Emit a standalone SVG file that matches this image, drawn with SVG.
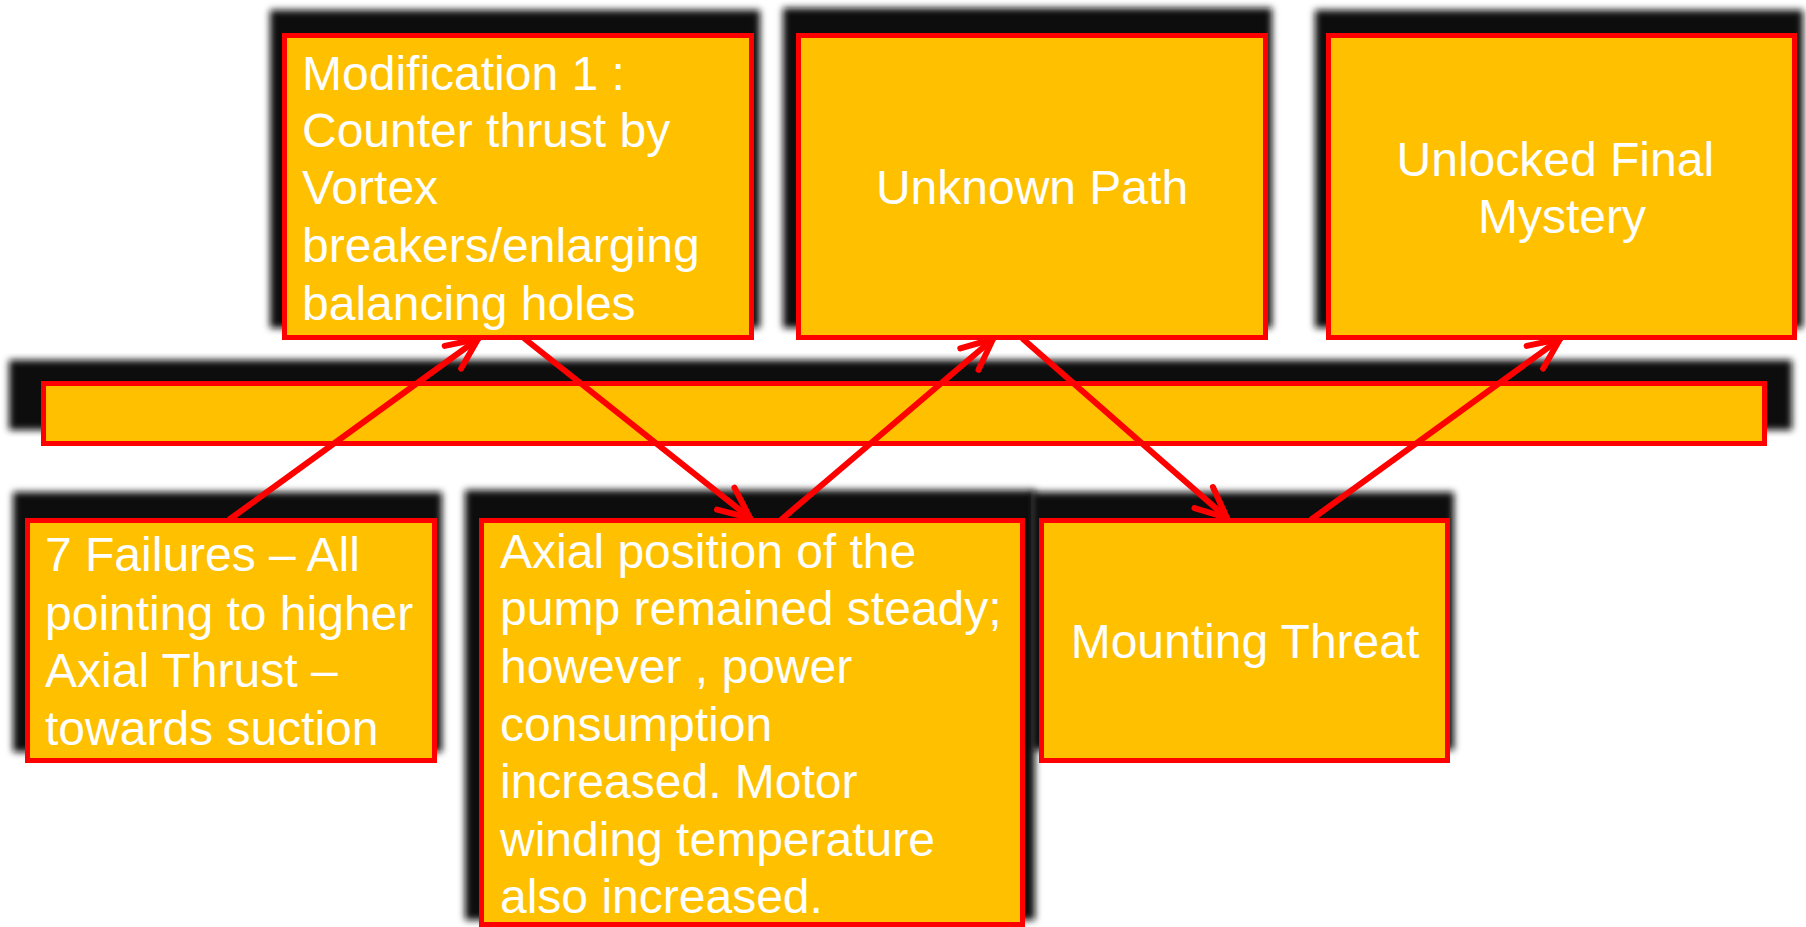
<svg xmlns="http://www.w3.org/2000/svg" width="1806" height="927" viewBox="0 0 1806 927">
  <defs>
    <filter id="blur" x="-5%" y="-10%" width="110%" height="120%">
      <feGaussianBlur stdDeviation="3.5"/>
    </filter>
    <marker id="arrow" markerUnits="userSpaceOnUse" markerWidth="50" markerHeight="50" viewBox="-40 -25 50 50" refX="0" refY="0" orient="auto" overflow="visible">
      <path d="M -31 -14 L 0 0 L -31 14" fill="none" stroke="#FF0000" stroke-width="6" stroke-linecap="round" stroke-linejoin="round"/>
    </marker>
  </defs>
  <style>
    .shadow { fill: #0d0d0d; filter: url(#blur); }
    .box { fill: #FFC000; stroke: #FF0000; stroke-width: 5; }
    .label { font-family: "Liberation Sans", Arial, sans-serif; font-size: 48px; fill: #FFFFFF; }
    .mid { text-anchor: middle; }
    .conn { stroke: #FF0000; stroke-width: 6; stroke-linecap: round; fill: none; marker-end: url(#arrow); }
  </style>
  <rect width="1806" height="927" fill="#FFFFFF"/>

  <g id="node-modification">
    <rect class="shadow" x="270" y="10" width="490" height="318"/>
    <rect class="box" x="284.5" y="35.5" width="467" height="302"/>
    <text class="label">
      <tspan x="302" y="90">Modification 1 :</tspan>
      <tspan x="302" y="147">Counter thrust by</tspan>
      <tspan x="302" y="204">Vortex</tspan>
      <tspan x="302" y="262">breakers/enlarging</tspan>
      <tspan x="302" y="320">balancing holes</tspan>
    </text>
  </g>

  <g id="node-unknown">
    <rect class="shadow" x="783" y="8" width="489" height="320"/>
    <rect class="box" x="798.5" y="35.5" width="467" height="302"/>
    <text class="label mid" x="1032" y="204">Unknown Path</text>
  </g>

  <g id="node-unlocked">
    <rect class="shadow" x="1315" y="10" width="488" height="318"/>
    <rect class="box" x="1328.5" y="35.5" width="466" height="302"/>
    <text class="label mid">
      <tspan x="1562" y="176">Unlocked Final</tspan>
      <tspan x="1562" y="233">Mystery</tspan>
    </text>
  </g>

  <g id="node-bar">
    <rect class="shadow" x="9" y="360" width="1783" height="70"/>
    <rect class="box" x="43.5" y="383.5" width="1721" height="60"/>
  </g>

  <g id="node-failures">
    <rect class="shadow" x="13" y="492" width="429" height="260"/>
    <rect class="box" x="27.5" y="520.5" width="407" height="240"/>
    <text class="label">
      <tspan x="45" y="571">7 Failures – All</tspan>
      <tspan x="45" y="630">pointing to higher</tspan>
      <tspan x="45" y="687">Axial Thrust –</tspan>
      <tspan x="45" y="745">towards suction</tspan>
    </text>
  </g>

  <g id="node-axial">
    <rect class="shadow" x="465" y="490" width="570" height="430"/>
    <rect class="box" x="481.5" y="520.5" width="541" height="404"/>
    <text class="label">
      <tspan x="500" y="568">Axial position of the</tspan>
      <tspan x="500" y="625">pump remained steady;</tspan>
      <tspan x="500" y="683">however , power</tspan>
      <tspan x="500" y="741">consumption</tspan>
      <tspan x="500" y="798">increased. Motor</tspan>
      <tspan x="500" y="856">winding temperature</tspan>
      <tspan x="500" y="913">also increased.</tspan>
    </text>
  </g>

  <g id="node-mounting">
    <rect class="shadow" x="1031" y="492" width="423" height="258"/>
    <rect class="box" x="1041.5" y="520.5" width="406" height="240"/>
    <text class="label mid" x="1245" y="658">Mounting Threat</text>
  </g>

  <g id="connectors">
    <line class="conn" x1="230" y1="519" x2="478" y2="339"/>
    <line class="conn" x1="525" y1="339" x2="750" y2="518"/>
    <line class="conn" x1="782" y1="519" x2="993" y2="339"/>
    <line class="conn" x1="1023" y1="339" x2="1227" y2="518"/>
    <line class="conn" x1="1312" y1="519" x2="1560" y2="339"/>
  </g>
</svg>
